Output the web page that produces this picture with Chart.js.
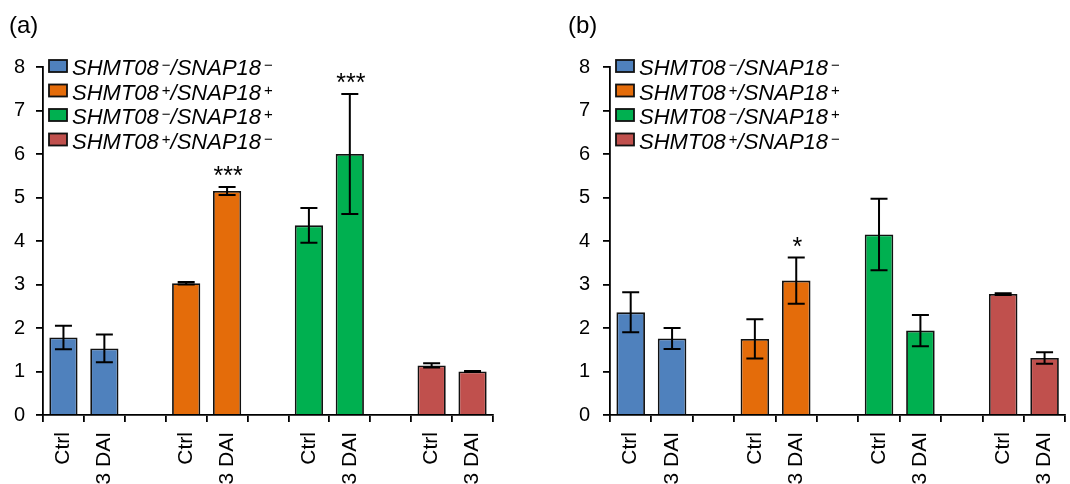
<!DOCTYPE html>
<html>
<head>
<meta charset="utf-8">
<script src="https://cdn.jsdelivr.net/npm/chart.js@4.4.1/dist/chart.umd.min.js"></script>
<style>
  html, body { margin: 0; padding: 0; background: #fff; overflow: hidden; width: 1070px; height: 484px; }
  .panel { position: absolute; top: 0; height: 484px; }
  .tag { position: absolute; top: 11px; font: 24px "Liberation Sans", Arial, sans-serif; color: #000; }
</style>
</head>
<body>
<div class="panel" style="left:0;width:540px"><canvas id="chartA" width="540" height="484"></canvas></div>
<div class="tag" style="left:9px">(a)</div>
<div class="panel" style="left:560px;width:520px"><canvas id="chartB" width="520" height="484"></canvas></div>
<div class="tag" style="left:568px">(b)</div>

<script>
// categories on the x axis (empty ones are the gaps between genotypes)
const categories = ['Ctrl', '3 DAI', '', 'Ctrl', '3 DAI', '', 'Ctrl', '3 DAI', '', 'Ctrl', '3 DAI'];

// genotypes (legend) and their colours
const genotypes = ['SHMT08−/SNAP18−', 'SHMT08+/SNAP18+', 'SHMT08−/SNAP18+', 'SHMT08+/SNAP18−'];
const barColors = ['#4F81BD', '#E46C0A', '#00B050', '#C0504D'];

// panel (a): Ctrl, 3 DAI for each genotype in order
const meansA  = [1.78, 1.53, 3.03, 5.15, 4.36, 6.00, 1.14, 1.00];
const errorsA = [0.27, 0.32, 0.03, 0.09, 0.40, 1.38, 0.05, 0.01];
const starsA  = ['', '', '', '***', '', '***', '', ''];

// panel (b)
const meansB  = [2.36, 1.76, 1.75, 3.09, 4.15, 1.94, 2.78, 1.31];
const errorsB = [0.46, 0.24, 0.45, 0.53, 0.82, 0.36, 0.02, 0.13];
const starsB  = ['', '', '', '*', '', '', '', ''];

const yMin = 0, yMax = 8, yStep = 1;

const FONT = '"Liberation Sans", Arial, sans-serif';

// spread the 8 values over the 11 categories, one dataset per genotype
function toCategories(values, g) {
  return categories.map((c, i) => (Math.floor(i / 3) === g && i % 3 < 2) ? values[g * 2 + i % 3] : null);
}

function buildDatasets(means, errors, stars) {
  return genotypes.map((name, g) => ({
    label: name,
    data: toCategories(means, g),
    errors: toCategories(errors, g),
    stars: toCategories(stars, g),
    backgroundColor: barColors[g],
    borderColor: '#111',
    borderWidth: 1.8,
    grouped: false,
    categoryPercentage: 1,
    barPercentage: 0.69
  }));
}

// error bars + significance stars
const errorBarPlugin = {
  id: 'errorBars',
  afterDatasetsDraw(chart) {
    const ctx = chart.ctx;
    const y = chart.scales.y;
    ctx.save();
    ctx.strokeStyle = '#000';
    ctx.lineWidth = 2;
    chart.data.datasets.forEach((ds, di) => {
      const meta = chart.getDatasetMeta(di);
      meta.data.forEach((bar, i) => {
        const v = ds.data[i];
        if (v == null) return;
        const e = ds.errors[i] || 0;
        const top = y.getPixelForValue(v + e);
        const bot = y.getPixelForValue(v - e);
        const cap = 8.5;
        ctx.beginPath();
        ctx.moveTo(bar.x, top); ctx.lineTo(bar.x, bot);
        ctx.moveTo(bar.x - cap, top); ctx.lineTo(bar.x + cap, top);
        ctx.moveTo(bar.x - cap, bot); ctx.lineTo(bar.x + cap, bot);
        ctx.stroke();
        const s = ds.stars[i];
        if (s) {
          ctx.fillStyle = '#000';
          ctx.font = '25px ' + FONT;
          ctx.textAlign = 'center';
          ctx.textBaseline = 'alphabetic';
          ctx.fillText(s, bar.x + 1, top - 3);
        }
      });
    });
    ctx.restore();
  }
};

// legend with superscript signs
const legendPlugin = {
  id: 'supLegend',
  afterDraw(chart) {
    const ctx = chart.ctx;
    const area = chart.chartArea;
    ctx.save();
    chart.data.datasets.forEach((ds, i) => {
      const bx = area.left + 6;
      const by = area.top - 7 + i * 24.5;
      ctx.fillStyle = ds.backgroundColor;
      ctx.fillRect(bx, by, 18, 12);
      ctx.strokeStyle = '#111';
      ctx.lineWidth = 1.8;
      ctx.strokeRect(bx, by, 18, 12);

      const m = ds.label.match(/^(\w+)(.)\/(\w+)(.)$/);
      const parts = [[m[1], false], [m[2], true], ['/' + m[3], false], [m[4], true]];
      let x = bx + 23;
      const base = by + 15;
      ctx.fillStyle = '#000';
      ctx.textAlign = 'left';
      ctx.textBaseline = 'alphabetic';
      parts.forEach(([t, sup]) => {
        if (sup) {
          ctx.font = '15px ' + FONT;
          x += 3;
          ctx.fillText(t, x, base - 5);
          x += ctx.measureText(t).width;
        } else {
          ctx.font = 'italic 22px ' + FONT;
          ctx.fillText(t, x, base);
          x += ctx.measureText(t).width;
        }
      });
    });
    ctx.restore();
  }
};

function makeChart(id, means, errors, stars, yAxisWidth, rightPad, yPad) {
  return new Chart(document.getElementById(id), {
    type: 'bar',
    data: { labels: categories, datasets: buildDatasets(means, errors, stars) },
    options: {
      responsive: false,
      animation: false,
      layout: { padding: { top: 67, right: rightPad, left: 0, bottom: 0 } },
      plugins: { legend: { display: false }, tooltip: { enabled: false } },
      scales: {
        x: {
          offset: true,
          grid: { offset: true, drawOnChartArea: false, tickLength: 7, color: '#000', lineWidth: 1.8 },
          border: { display: true, color: '#000', width: 1.8 },
          ticks: { autoSkip: false, maxRotation: 90, minRotation: 90, padding: 10, color: '#000', font: { size: 21, family: FONT } },
          afterFit(scale) { scale.height = 69; }
        },
        y: {
          min: yMin, max: yMax,
          grid: { drawOnChartArea: false, tickLength: 7, color: '#000', lineWidth: 1.8 },
          border: { display: true, color: '#000', width: 1.8 },
          ticks: { stepSize: yStep, padding: yPad, color: '#000', font: { size: 20, family: FONT } },
          afterFit(scale) { scale.width = yAxisWidth; }
        }
      }
    },
    plugins: [errorBarPlugin, legendPlugin]
  });
}

makeChart('chartA', meansA, errorsA, starsA, 43, 47, 11);
makeChart('chartB', meansB, errorsB, starsB, 50, 5, 13);
</script>
</body>
</html>
